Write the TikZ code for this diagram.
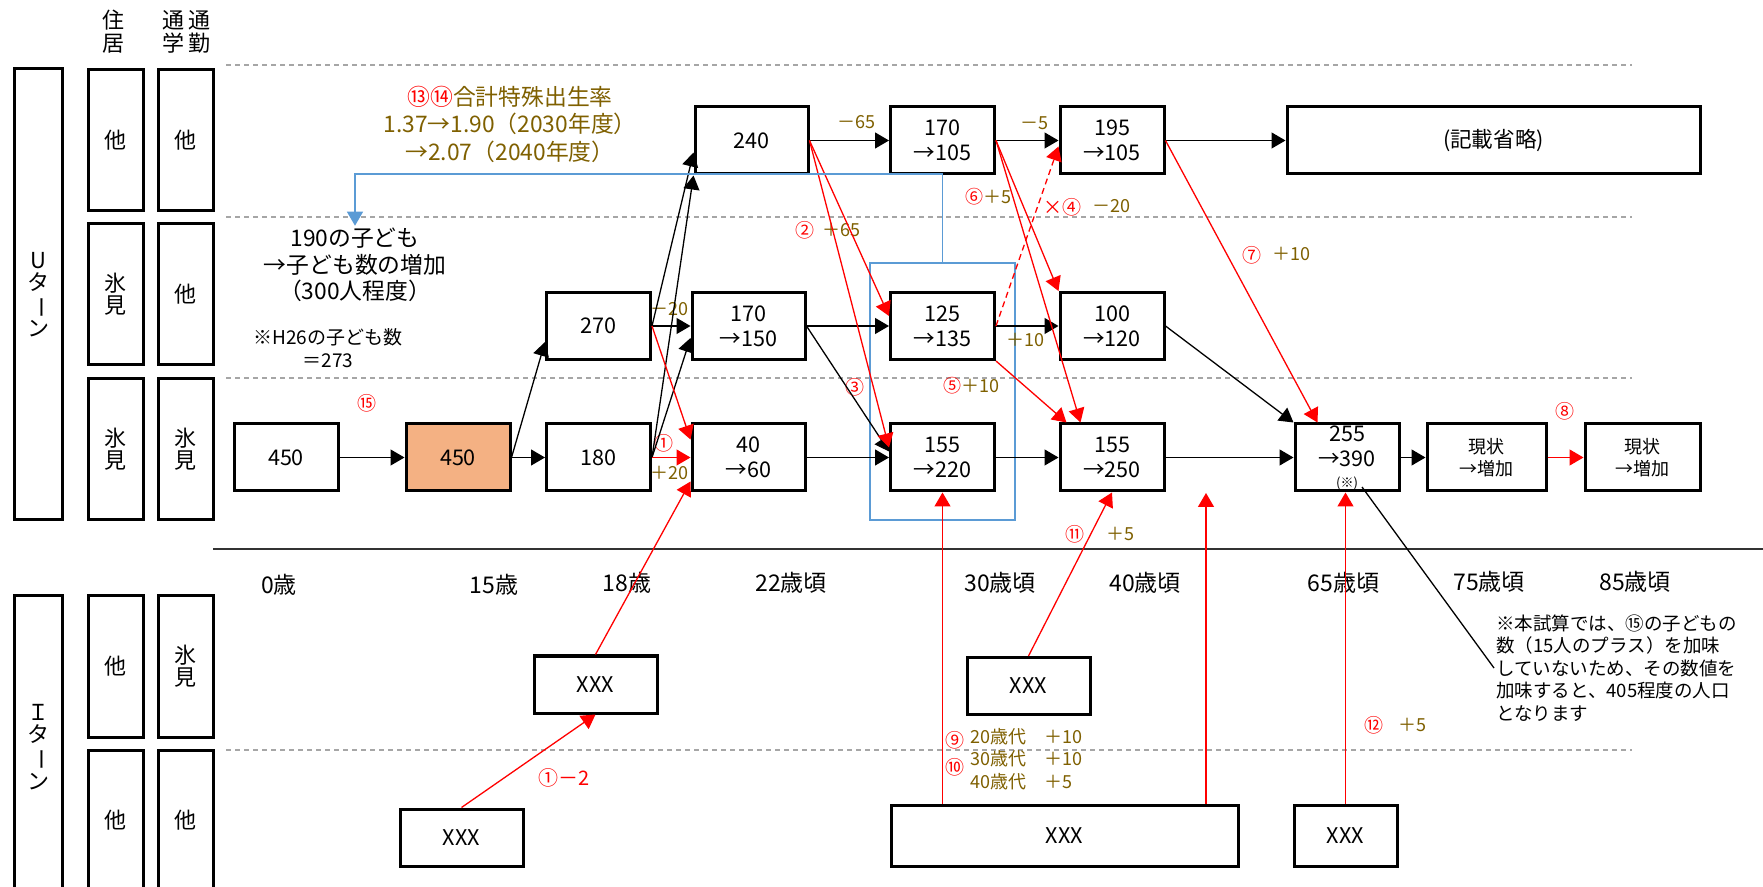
\documentclass[tikz,border=0pt]{standalone}
\usepackage{fontspec}
\setmainfont{Noto Sans CJK JP}
\usepackage{xcolor}
\usepackage{tikz}
\usetikzlibrary{arrows.meta, fit}

\definecolor{rategold}{HTML}{7F6000}
\definecolor{guidegray}{HTML}{A6A6A6}
\definecolor{teenorange}{HTML}{F4B183}
\definecolor{linkblue}{HTML}{5B9BD5}
\newcommand{\tatebar}{\rotatebox[origin=c]{-90}{ー}}

\begin{document}
\begin{tikzpicture}[
    x=0.5pt, y=-0.5pt,
    every node/.style={align=center, inner sep=1pt},
    cell/.style={draw, line width=1.5pt, minimum height=33.5pt, font=\fontsize{10.8}{12.5}\selectfont},
    midcell/.style={cell, minimum width=52pt},
    widecell/.style={cell, minimum width=56.5pt},
    teen/.style={midcell, fill=teenorange},
    nowcell/.style={cell, font=\fontsize{9}{10.8}\selectfont},
    xcell/.style={cell, minimum width=61.5pt, minimum height=28.5pt},
    rowcell/.style={draw, line width=1.5pt, minimum width=27.5pt, minimum height=70.5pt, font=\fontsize{11}{11}\selectfont},
    turnbox/.style={rowcell, minimum width=24pt},
    headtext/.style={font=\fontsize{11}{11.5}\selectfont},
    age/.style={font=\fontsize{11.5}{13}\selectfont},
    gain/.style={text=rategold, font=\fontsize{9}{11}\selectfont},
    circ/.style={text=red, font=\fontsize{9.5}{11}\selectfont},
    flow/.style={-{Triangle[length=7pt, width=8pt]}, line width=0.65pt},
    redflow/.style={flow, red},
    guide/.style={guidegray, line width=0.7pt, dash pattern=on 2.5pt off 2pt}
]
    \path[use as bounding box, fill=white] (0,0) rectangle (1763,887);
    \clip (0,0) rectangle (1763,887);

    % Guide lines
    \foreach \y in {65,217,378,750}
        \draw[guide] (226,\y) -- (1632,\y);
    \draw[line width=0.8pt, black!80] (213,549) -- (1763,549);

    % Left labels
    \node (hlive) [headtext] at (113,31.5) {住\\居};
    \node (hschool) [headtext] at (173,31.5) {通\\学};
    \node (hwork) [headtext] at (199,31.5) {通\\勤};
    \node (uturn) [turnbox, minimum height=225.5pt] at (38,294.5) {U\\タ\\\tatebar\\ン};
    \node (iturn) [turnbox, minimum height=151pt] at (38,747) {Ｉ\\タ\\\tatebar\\ン};
    \node (live1) [rowcell] at (115.5,140) {他};
    \node (work1) [rowcell] at (185.5,140) {他};
    \node (live2) [rowcell] at (115.5,294.5) {氷\\見};
    \node (work2) [rowcell] at (185.5,294.5) {他};
    \node (live3) [rowcell] at (115.5,449.5) {氷\\見};
    \node (work3) [rowcell] at (185.5,449.5) {氷\\見};
    \node (live4) [rowcell] at (115.5,666.5) {他};
    \node (work4) [rowcell] at (185.5,666.5) {氷\\見};
    \node (live5) [rowcell] at (115.5,820.5) {他};
    \node (work5) [rowcell] at (185.5,820.5) {他};

    % Nodes (U-turn)
    \node (p0) [midcell] at (286,457.5) {450};
    \node (p15) [teen] at (458,457.5) {450};
    \node (p18mid) [midcell] at (598.5,326) {270};
    \node (p18low) [midcell] at (598.5,457.5) {180};
    \node (p22top) [widecell] at (751.5,140.5) {240};
    \node (p22mid) [widecell] at (748.5,326) {170\\→150};
    \node (p22low) [widecell] at (748.5,457.5) {40\\→60};
    \node (p30top) [midcell] at (942.5,140.5) {170\\→105};
    \node (p30mid) [midcell] at (942.5,326) {125\\→135};
    \node (p30low) [midcell] at (942.5,457.5) {155\\→220};
    \node (p40top) [midcell] at (1112,140.5) {195\\→105};
    \node (p40mid) [midcell] at (1112,326) {100\\→120};
    \node (p40low) [midcell] at (1112,457.5) {155\\→250};
    \node (pomit) [cell, minimum width=206.5pt] at (1493.5,140.5) {(記載省略)};
    \node (p65) [midcell, inner sep=0pt] at (1347,457.5) {255\\→390\\[-2pt]{\fontsize{6.5}{7}\selectfont (※)}};
    \node (p75) [nowcell, minimum width=59.5pt] at (1486.5,457.5) {現状\\→増加};
    \node (p85) [nowcell, minimum width=57.5pt] at (1642.5,457.5) {現状\\→増加};
    \node (grp30) [draw=linkblue, line width=1pt, fit=(p30mid)(p30low), inner xsep=9.5pt, inner ysep=14pt] {};

    % Nodes (I-turn)
    \node (i15) [xcell] at (461.5,837.5) {XXX};
    \node (i18) [xcell] at (595.5,684.5) {XXX};
    \node (i30) [xcell] at (1028.5,686) {XXX};
    \node (iwide) [xcell, minimum width=173.5pt, minimum height=30.5pt] at (1064.5,835.5) {XXX};
    \node (i65) [xcell, minimum width=51.5pt, minimum height=30.5pt] at (1345.5,835.5) {XXX};

    % Ages
    \node (age0) [age] at (279,585) {0歳};
    \node (age15) [age] at (494,585) {15歳};
    \node (age18) [age] at (627,583) {18歳};
    \node (age22) [age] at (791,583) {22歳頃};
    \node (age30) [age] at (1000,583) {30歳頃};
    \node (age40) [age] at (1145,583) {40歳頃};
    \node (age65) [age] at (1343.5,583) {65歳頃};
    \node (age75) [age] at (1489,582) {75歳頃};
    \node (age85) [age] at (1635,582) {85歳頃};

    % Texts
    \node (rate) [text=rategold, font=\fontsize{11.4}{13.75}\selectfont] at (510,124) {\textcolor{red}{⑬⑭}合計特殊出生率\\1.37→1.90（2030年度）\\→2.07（2040年度）};
    \node (kids) [font=\fontsize{11.4}{13.25}\selectfont] at (355,265) {190の子ども\\→子ども数の増加\\（300人程度）};
    \node (h26) [font=\fontsize{9.5}{11.65}\selectfont] at (328,348) {※H26の子ども数\\＝273};
    \node (note) [anchor=west, align=left, font=\fontsize{9.25}{11.2}\selectfont] at (1494,668) {※本試算では、⑮の子どもの\\数（15人のプラス）を加味\\していないため、その数値を\\加味すると、405程度の人口\\となります};
    \node (ages) [gain, anchor=west, align=left, font=\fontsize{9}{11.25}\selectfont] at (968,759) {20歳代　＋10\\30歳代　＋10\\40歳代　＋5};

    % Labels
    \node (d1) [gain] at (856,122) {－65};
    \node (d2) [gain] at (1034,123) {－5};
    \node (d3) [gain] at (669,309) {－20};
    \node (c1) [circ] at (664,443) {①};
    \node (d4) [gain] at (669,473) {＋20};
    \node (c2) [circ] at (805,230) {②};
    \node (d5) [gain] at (841,230) {＋65};
    \node (c3) [circ] at (854.5,387) {③};
    \node (c6) [gain] at (988,197) {\textcolor{red}{⑥}＋5};
    \node (c4) [circ] at (1062,207) {×④};
    \node (d6) [gain] at (1111,206) {－20};
    \node (d7) [gain] at (1025,340) {＋10};
    \node (c5) [gain] at (971,386) {\textcolor{red}{⑤}＋10};
    \node (c7) [circ] at (1252,255) {⑦};
    \node (d8) [gain] at (1291,254) {＋10};
    \node (c8) [circ] at (1565,411) {⑧};
    \node (c11) [circ] at (1074.5,534) {⑪};
    \node (d9) [gain] at (1120,534) {＋5};
    \node (c12) [circ] at (1374,725) {⑫};
    \node (d10) [gain] at (1412,725) {＋5};
    \node (c15) [circ] at (366.6,403) {⑮};
    \node (c1b) [circ, font=\fontsize{10}{11}\selectfont] at (564.5,778) {①－2};
    \node (c9) [circ] at (955,740) {⑨};
    \node (c10) [circ] at (955,767) {⑩};

    \coordinate (gap40) at (1206,493);
    \coordinate (kome) at (1362,487);

    % Arrows
    \draw[flow] (p0) -- (p15);
    \draw[flow] (p15) -- (p18low);
    \draw[flow] (p15.east) -- ([yshift=-8pt]p18mid.west);
    \draw[flow] (p18mid) -- (p22mid);
    \draw[flow] (p18mid.east) -- ([yshift=-6pt]p22top.west);
    \draw[flow] (p18low.east) -- (p22top.south west);
    \draw[flow] (p18low.east) -- ([yshift=-6pt]p22mid.west);
    \draw[redflow] (p18low) -- (p22low);
    \draw[redflow] (p18mid.east) -- ([yshift=9pt]p22low.west);
    \draw[redflow] (i18.north) -- ([yshift=-12pt]p22low.west);
    \draw[redflow] (i15.north) -- (i18.south);
    \draw[flow] (p22top) -- (p30top);
    \draw[flow] (p22mid) -- (p30mid);
    \draw[flow] (p22low) -- (p30low);
    \draw[flow] (p22mid.east) -- ([yshift=3pt]p30low.west);
    \draw[redflow] (p22top.east) -- ([yshift=5pt]p30mid.west);
    \draw[redflow] (p22top.east) -- ([yshift=5pt]p30low.west);
    \draw[flow] (p30top) -- (p40top);
    \draw[flow] (p30mid) -- (p40mid);
    \draw[flow] (p30low) -- (p40low);
    \draw[redflow] (p30top.east) -- (p40mid.north west);
    \draw[redflow] (p30top.east) -- ([xshift=11pt]p40low.north west);
    \draw[redflow, dash pattern=on 3pt off 2pt] (p30mid.east) -- ([yshift=-3pt]p40top.west);
    \draw[redflow] (p30mid.south east) -- ([xshift=4pt]p40low.north west);
    \draw[flow] (p40top) -- (pomit);
    \draw[redflow] (p40top.east) -- ([xshift=12pt]p65.north west);
    \draw[flow] (p40mid.east) -- (p65.north west);
    \draw[flow] (p40low) -- (p65);
    \draw[flow] (p65) -- (p75);
    \draw[redflow] (p75) -- (p85);
    \draw[redflow] (p30low.south |- iwide.north) -- (p30low.south);
    \draw[redflow] (gap40 |- iwide.north) -- (gap40);
    \draw[redflow] (i65.north) -- (i65.north |- p65.south);
    \draw[redflow] (i30.north) -- (p40low.south);
    \draw[line width=0.65pt] (kome) -- (note.west);
    \draw[flow, linkblue] (grp30.north) -- ++(0,-88) -| (kids.north);

\end{tikzpicture}
\end{document}
